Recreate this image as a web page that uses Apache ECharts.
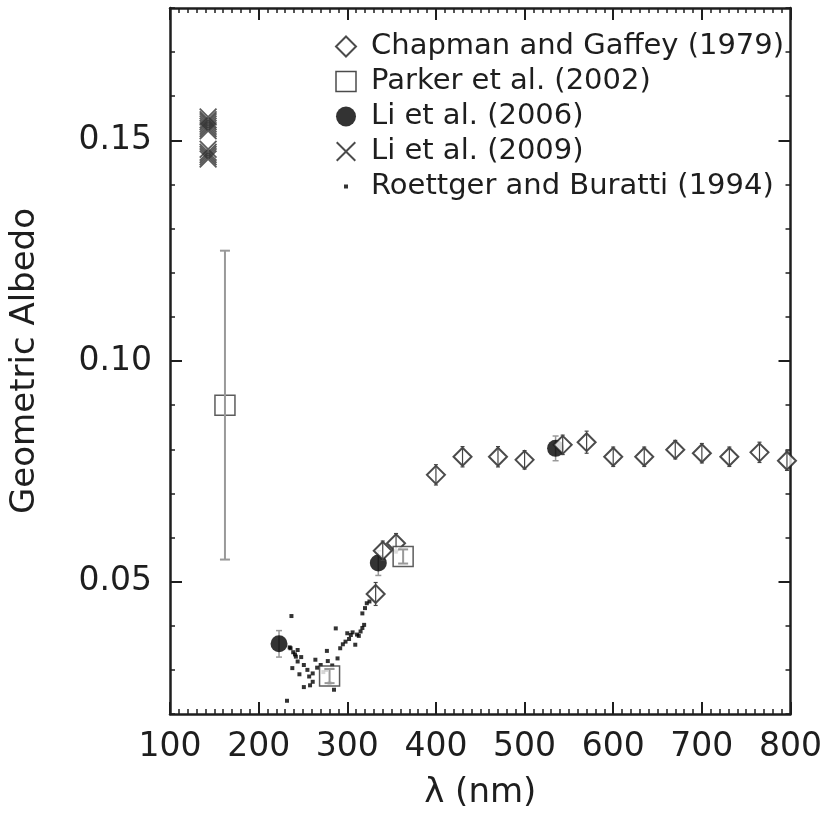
<!DOCTYPE html>
<html><head><meta charset="utf-8">
<script src="https://cdn.jsdelivr.net/npm/echarts@6/dist/echarts.min.js"></script>
<style>html,body{margin:0;padding:0;background:#fff}#c{width:825px;height:824px}</style>
</head><body><div id="c"></div><script>
// ---- data ----
const xTickValues = [100, 200, 300, 400, 500, 600, 700, 800];
const yTickLabels = [0.05, 0.10, 0.15];

const chapmanX = [332, 340, 355, 400, 430, 470, 500, 543, 570, 600, 635, 670, 700, 731, 765, 796];
const chapmanY = [0.0472, 0.0570, 0.0587, 0.0742, 0.0783, 0.0783, 0.0776, 0.0810, 0.0816, 0.0783, 0.0783, 0.0799, 0.0791, 0.0783, 0.0793, 0.0774];
const chapmanErr = [0.0026, 0.0022, 0.0022, 0.0023, 0.0023, 0.0023, 0.0021, 0.0022, 0.0025, 0.0022, 0.0022, 0.0021, 0.0022, 0.0022, 0.0023, 0.0022];

const parkerX = [162, 280, 363];
const parkerY = [0.090, 0.0286, 0.0557];
const parkerErr = [0.035, 0.0016, 0.0016];

const li2006X = [223, 335, 535];
const li2006Y = [0.0359, 0.0542, 0.0802];
const li2006Err = [0.0030, 0.0028, 0.0028];

const li2009X = [143, 143, 143, 143, 143, 143, 143, 143, 143, 143, 143, 143];
const li2009Y = [0.1458, 0.1463, 0.1468, 0.1473, 0.1480, 0.1522, 0.1527, 0.1532, 0.1537, 0.1542, 0.1547, 0.1553];
const li2009MeanX = [143];
const li2009MeanY = [0.150];

const roettgerX = [232, 237, 235, 239, 241, 244, 248, 238, 244, 246, 251, 255, 257, 261, 264, 266, 270, 273, 277, 276, 261, 251, 258, 285, 280, 289, 287, 292, 295, 298, 300, 302, 304, 306, 309, 311, 313, 315, 317, 319, 317, 320, 322, 325, 283, 278, 236, 242];
const roettgerY = [0.0230, 0.0422, 0.0351, 0.0340, 0.0335, 0.0345, 0.0329, 0.0304, 0.0319, 0.0290, 0.0311, 0.0300, 0.0285, 0.0292, 0.0323, 0.0305, 0.0311, 0.0295, 0.0343, 0.0300, 0.0273, 0.0261, 0.0265, 0.0255, 0.0270, 0.0326, 0.0394, 0.0349, 0.0358, 0.0364, 0.0383, 0.0370, 0.0379, 0.0385, 0.0357, 0.0380, 0.0377, 0.0387, 0.0395, 0.0402, 0.0428, 0.0440, 0.0451, 0.0455, 0.0310, 0.0320, 0.0349, 0.0330];

const names = ['Chapman and Gaffey (1979)', 'Parker et al. (2002)', 'Li et al. (2006)', 'Li et al. (2009)', 'Roettger and Buratti (1994)'];

// ---- styling ----
const FONT = 'DejaVu Sans';
const INK = '#1e1e1e';
const DIAMOND = 'path://M10,0L20,10L10,20L0,10Z';
const SQUARE = 'path://M0,0H20V20H0Z';
const CIRCLE = 'path://M10,0A10,10 0 1 1 9.99,0Z';
const XMARK = 'path://M0,1.4L1.4,0L10,8.6L18.6,0L20,1.4L11.4,10L20,18.6L18.6,20L10,11.4L1.4,20L0,18.6L8.6,10Z';
const DOT_ICON = 'path://M0,0L0.01,0L0,0.01Z M8,8H12V12H8Z M20,20L19.99,20L20,19.99Z';

const zip = (a, b) => a.map((v, i) => [v, b[i]]);

function errSeries(xs, ys, es, color, capW, lw, z) {
  return {
    type: 'custom', silent: true, z: z, xAxisIndex: 0, yAxisIndex: 0,
    data: xs.map((x, i) => [x, ys[i] - es[i], ys[i] + es[i]]),
    encode: { x: 0, y: [1, 2] },
    renderItem: function (params, api) {
      const lo = api.coord([api.value(0), api.value(1)]);
      const hi = api.coord([api.value(0), api.value(2)]);
      const st = { stroke: color, lineWidth: lw };
      return { type: 'group', children: [
        { type: 'line', shape: { x1: lo[0], y1: lo[1], x2: hi[0], y2: hi[1] }, style: st },
        { type: 'line', shape: { x1: lo[0] - capW / 2, y1: lo[1], x2: lo[0] + capW / 2, y2: lo[1] }, style: st },
        { type: 'line', shape: { x1: hi[0] - capW / 2, y1: hi[1], x2: hi[0] + capW / 2, y2: hi[1] }, style: st }
      ] };
    }
  };
}

const axisLine = { show: true, onZero: false, lineStyle: { color: INK, width: 2.5 } };
const labelStyle = { fontSize: 33, fontFamily: FONT, color: INK };

function xAx(pos, showLabel) {
  return {
    type: 'value', position: pos, min: 100, max: 800, interval: 100,
    axisLine: axisLine,
    axisTick: { show: true, inside: true, length: 12, lineStyle: { color: INK, width: 2 } },
    minorTick: { show: true, inside: true, splitNumber: 10, length: 5, lineStyle: { color: INK, width: 1.5 } },
    splitLine: { show: false }, minorSplitLine: { show: false },
    axisLabel: Object.assign({ show: showLabel, margin: 17 }, labelStyle),
    name: showLabel ? 'λ (nm)' : '', nameLocation: 'middle', nameGap: 62,
    nameTextStyle: { fontSize: 34, fontFamily: FONT, color: INK }
  };
}
function yMinor(pos) {
  return {
    type: 'value', position: pos, min: 0.02, max: 0.18, interval: 0.01,
    axisLine: axisLine,
    axisTick: { show: true, inside: true, length: 5, lineStyle: { color: INK, width: 1.5 } },
    axisLabel: { show: false }, splitLine: { show: false }
  };
}
function yMajor(pos, showLabel) {
  return {
    type: 'value', position: pos, min: 0.02, max: 0.18, interval: 0.01,
    axisLine: { show: false },
    axisTick: { show: true, inside: true, length: 12, customValues: yTickLabels, lineStyle: { color: INK, width: 2 } },
    axisLabel: Object.assign({ show: showLabel, margin: 18, customValues: yTickLabels, formatter: v => v.toFixed(2) }, labelStyle),
    splitLine: { show: false },
    name: showLabel ? 'Geometric Albedo' : '', nameLocation: 'middle', nameGap: 128,
    nameTextStyle: { fontSize: 34, fontFamily: FONT, color: INK }
  };
}

const chart = echarts.init(document.getElementById('c'), null, { renderer: 'canvas' });
chart.setOption({
  animation: false,
  backgroundColor: '#fff',
  grid: { left: 168, right: 31, top: 8, bottom: 110, containLabel: false },
  xAxis: [xAx('bottom', true), xAx('top', false)],
  yAxis: [yMinor('left'), yMajor('left', true), yMinor('right'), yMajor('right', false)],
  legend: {
    orient: 'vertical', left: 335, top: 32, padding: 0,
    itemWidth: 40, itemHeight: 20, itemGap: 6, symbolKeepAspect: true,
    selectedMode: false,
    textStyle: { fontSize: 29, fontFamily: FONT, color: INK },
    data: [
      { name: names[0], icon: DIAMOND, itemStyle: { color: '#fff', borderColor: INK, borderWidth: 2 } },
      { name: names[1], icon: SQUARE, itemStyle: { color: '#fff', borderColor: INK, borderWidth: 1.5 } },
      { name: names[2], icon: CIRCLE, itemStyle: { color: '#000', borderWidth: 0 } },
      { name: names[3], icon: XMARK, itemStyle: { color: INK, borderWidth: 0 } },
      { name: names[4], icon: DOT_ICON, itemStyle: { color: '#000', borderWidth: 0 } }
    ]
  },
  series: [
    { name: names[4], type: 'scatter', z: 2, symbol: 'rect', symbolSize: 4,
      itemStyle: { color: '#000' }, data: zip(roettgerX, roettgerY) },
    errSeries(li2006X, li2006Y, li2006Err, '#999', 6, 1.5, 3),
    { name: names[2], type: 'scatter', z: 4, symbol: 'circle', symbolSize: 17,
      itemStyle: { color: '#000' }, data: zip(li2006X, li2006Y) },
    { name: names[0], type: 'scatter', z: 5, symbol: DIAMOND, symbolSize: 18,
      itemStyle: { color: '#fff', borderColor: INK, borderWidth: 2 }, data: zip(chapmanX, chapmanY) },
    errSeries(chapmanX, chapmanY, chapmanErr, '#444', 4, 1.2, 6),
    { name: names[1], type: 'scatter', z: 7, symbol: SQUARE, symbolSize: 20,
      itemStyle: { color: '#fff', borderColor: '#333', borderWidth: 1.5 }, data: zip(parkerX, parkerY) },
    errSeries(parkerX, parkerY, parkerErr, '#999', 10, 2, 8),
    { name: names[3], type: 'scatter', z: 9, symbol: XMARK, symbolSize: 18,
      itemStyle: { color: '#333', opacity: 0.8 }, data: zip(li2009X, li2009Y) },
    { name: 'Li 2009 mean', type: 'scatter', z: 10, symbol: 'circle', symbolSize: 8,
      itemStyle: { color: '#fff' }, data: zip(li2009MeanX, li2009MeanY) }
  ]
});
</script></body></html>
